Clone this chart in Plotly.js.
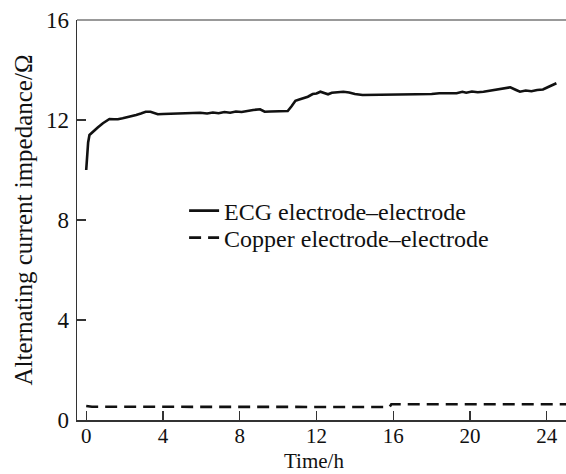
<!DOCTYPE html>
<html>
<head>
<meta charset="utf-8">
<script src="https://cdn.plot.ly/plotly-3.0.1.min.js"></script>
<style>html,body{margin:0;padding:0;background:#fff;}#chart{width:566px;height:474px;}</style>
</head>
<body>
<div id="chart"></div>
<script>
// ECG electrode-electrode impedance (Ω) over time (h)
const ecgTime = [0, 0.05, 0.1, 0.17, 0.3, 0.43, 0.6, 0.87, 1.05, 1.21, 1.45, 1.65, 1.9, 2.2, 2.6, 2.85, 3.1, 3.35, 3.56, 3.73,
  4.0, 4.4, 4.8, 5.2, 5.6, 5.94, 6.3, 6.6, 6.9, 7.2, 7.5, 7.8, 8.1, 8.4, 8.7, 9.06, 9.3, 9.6, 9.9, 10.2,
  10.5, 10.7, 10.9, 11.1, 11.3, 11.55, 11.8, 12.0, 12.2, 12.4, 12.6, 12.8, 13.1, 13.4, 13.7, 14.0, 14.4, 15.0, 15.8, 16.5,
  17.2, 18.0, 18.4, 18.9, 19.3, 19.6, 19.8, 20.1, 20.4, 20.7, 21.0, 21.3, 21.6, 22.1, 22.4, 22.6, 22.9, 23.2, 23.5, 23.8,
  24.1, 24.5];
const ecgImpedance = [10.0, 10.6, 11.1, 11.4, 11.5, 11.6, 11.7, 11.87, 11.95, 12.04, 12.03, 12.03, 12.07, 12.12, 12.2, 12.26, 12.33, 12.33, 12.29, 12.23,
  12.24, 12.25, 12.24, 12.26, 12.27, 12.29, 12.26, 12.3, 12.27, 12.32, 12.29, 12.34, 12.32, 12.37, 12.4, 12.43, 12.33, 12.34, 12.35, 12.35,
  12.36, 12.55, 12.77, 12.82, 12.87, 12.93, 13.04, 13.06, 13.13, 13.08, 13.03, 13.09, 13.12, 13.13, 13.1, 13.04, 13.0, 13.0, 13.0, 13.02,
  13.03, 13.04, 13.07, 13.07, 13.07, 13.13, 13.09, 13.14, 13.11, 13.13, 13.17, 13.2, 13.22, 13.31, 13.2, 13.13, 13.18, 13.15, 13.2, 13.22,
  13.33, 13.47];

// Copper electrode-electrode impedance (Ω)
const copperTime = [0, 0.3, 15.8, 15.9, 25];
const copperImpedance = [0.56, 0.53, 0.52, 0.63, 0.63];

const xTicks = [0, 4, 8, 12, 16, 20, 24];
const yTicks = [0, 4, 8, 12, 16];

const seriesNames = ['ECG electrode\u2013electrode', 'Copper electrode\u2013electrode'];
const xTitle = 'Time/h';
const yTitle = 'Alternating current impedance/\u03A9';

const FONT = '"Liberation Serif", "Times New Roman", serif';

const traces = [
  {x: ecgTime, y: ecgImpedance, type: 'scatter', mode: 'lines', name: seriesNames[0],
   line: {color: '#111', width: 2.6}, legend: 'legend'},
  {x: copperTime, y: copperImpedance, type: 'scatter', mode: 'lines', name: seriesNames[1],
   line: {color: '#111', width: 2.6, dash: '12px,7px'}, legend: 'legend2'}
];

const layout = {
  width: 566, height: 474,
  margin: {l: 77, r: 0, t: 20, b: 54},
  paper_bgcolor: '#fff', plot_bgcolor: '#fff',
  font: {family: FONT, size: 23, color: '#111'},
  xaxis: {
    range: [-0.48, 25], tickvals: xTicks, ticktext: xTicks.map(String),
    ticks: 'inside', ticklen: 9, tickwidth: 1.2, tickcolor: '#333',
    showline: true, linecolor: '#333', linewidth: 1.5, showgrid: false, zeroline: false,
    ticklabelstandoff: -4,
    tickfont: {family: FONT, size: 21, color: '#111'}
  },
  yaxis: {
    range: [0, 16], tickvals: yTicks, ticktext: yTicks.map(String),
    ticks: 'inside', ticklen: 9, tickwidth: 1.2, tickcolor: '#333',
    showline: true, linecolor: '#333', linewidth: 1.5, showgrid: false, zeroline: false,
    ticklabelstandoff: 2,
    tickfont: {family: FONT, size: 23, color: '#111'},
    title: {text: yTitle, font: {family: FONT, size: 25, color: '#111'}, standoff: 6}
  },
  annotations: [
    {text: xTitle, xref: 'paper', yref: 'paper', x: 0.485, y: -0.135, xanchor: 'center', yanchor: 'bottom',
     showarrow: false, borderpad: 0, font: {family: FONT, size: 21, color: '#111'}}
  ],
  shapes: [
    {type: 'line', xref: 'paper', yref: 'paper', x0: 0, x1: 1, y0: 1, y1: 1,
     line: {color: '#777', width: 1.5}}
  ],
  showlegend: true,
  legend: {x: 0.219, y: 0.5225, xanchor: 'left', yanchor: 'middle', bgcolor: 'rgba(0,0,0,0)',
    font: {family: FONT, size: 24, color: '#111'}},
  legend2: {x: 0.219, y: 0.455, xanchor: 'left', yanchor: 'middle', bgcolor: 'rgba(0,0,0,0)',
    font: {family: FONT, size: 24, color: '#111'}}
};

Plotly.newPlot('chart', traces, layout, {displayModeBar: false, staticPlot: true});
</script>
</body>
</html>
